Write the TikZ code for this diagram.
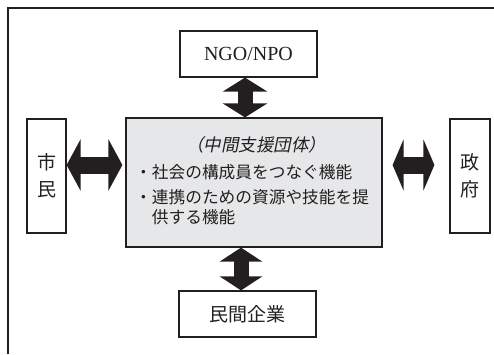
\documentclass[tikz,border=0pt]{standalone}
\usepackage{fontspec}
\setmainfont{Liberation Serif}
\newfontfamily\jp{Noto Sans CJK JP}
\newfontfamily\jpslant[FakeSlant=0.2]{Noto Sans CJK JP}
\usetikzlibrary{calc}
\usetikzlibrary{positioning}
\usetikzlibrary{arrows.meta}
\definecolor{inkline}{HTML}{231F20}
\definecolor{midgray}{HTML}{E6E7E8}

\begin{document}
\begin{tikzpicture}[x=1pt, y=-1pt,
    every node/.style={inner sep=0pt, text=inkline},
    box/.style={draw=inkline, line width=1.2pt, fill=white},
    bigarrow/.style n args={3}{draw=inkline, line width=#1,
      arrows={Triangle[length=#2,width=#3]-Triangle[length=#2,width=#3]}}]
  \useasboundingbox (0,0) rectangle (494,354);

  % outer frame
  \draw[inkline, line width=1.2pt] (8,354) -- (8,8) -- (494,8);

  % middle
  \node[box, fill=midgray, minimum width=256, minimum height=129] at (254,182.5) (mid) {};
  \node[font=\jpslant\fontsize{17.5}{17.5}\selectfont] at (256,145) (title) {（中間支援団体）};
  \node[font=\jp\fontsize{16.7}{20}\selectfont, align=left, anchor=north west]
    at (135,164.5) (func) {・社会の構成員をつなぐ機能\\[5pt]・連携のための資源や技能を提\\\hphantom{・}供する機能};

  % partners
  \node[box, minimum width=137, minimum height=46, font=\fontsize{20}{20}\selectfont]
    at (248.5,54) (ngo) {NGO/NPO};
  \node[box, minimum width=137, minimum height=46, font=\jp\fontsize{19}{19}\selectfont]
    at (247.5,314) (minkan) {民間企業};
  \node[box, minimum width=39, minimum height=114, align=center, font=\jp\fontsize{19}{27}\selectfont]
    at (46.5,176) (shimin) {市\\民};
  \node[box, minimum width=40, minimum height=114, align=center, font=\jp\fontsize{19}{27}\selectfont]
    at (470,176) (seifu) {政\\府};

  % arrows
  \draw[bigarrow={15pt}{14pt}{44pt}] ([xshift=-3.5]ngo.south) -- ([xshift=-3.5]ngo.south |- mid.north);
  \draw[bigarrow={15pt}{14pt}{42pt}] ([xshift=-6.5]minkan.north) -- ([xshift=-6.5]minkan.north |- mid.south);
  \draw[bigarrow={17pt}{14pt}{51pt}, shorten >=3pt] (shimin.east |- 0,165) -- (mid.west |- 0,165);
  \draw[bigarrow={17pt}{11pt}{51pt}, shorten <=10pt, shorten >=15pt] (mid.east |- 0,165) -- (seifu.west |- 0,165);
\end{tikzpicture}
\end{document}
